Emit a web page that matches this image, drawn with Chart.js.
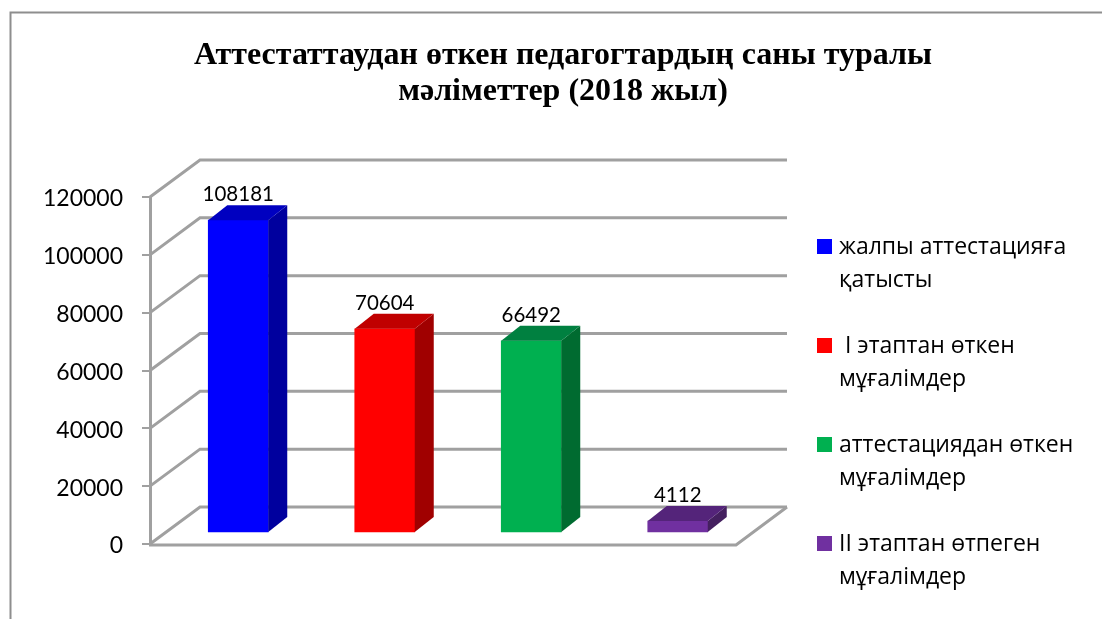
<!DOCTYPE html>
<html>
<head>
<meta charset="utf-8">
<style>html,body{margin:0;padding:0;background:#fff;overflow:hidden}canvas{display:block}</style>
<script src="https://cdn.jsdelivr.net/npm/chart.js@4"></script>
</head>
<body>
<canvas id="c" width="1102" height="619"></canvas>
<script>
const titleLines = ['Аттестаттаудан өткен педагогтардың саны туралы', 'мәліметтер (2018 жыл)'];
const categories = [['жалпы аттестацияға', 'қатысты'], [' І этаптан өткен', 'мұғалімдер'], ['аттестациядан өткен', 'мұғалімдер'], ['ІІ этаптан өтпеген', 'мұғалімдер']];
const values = [108181, 70604, 66492, 4112];
const frontColors = ['#0000FF', '#FF0000', '#00B050', '#7030A0'];
const topColors = ['#0000C0', '#C00000', '#008040', '#54247A'];
const sideColors = ['#00009E', '#A00000', '#006B30', '#44205F'];
const gridColor = '#A0A0A0';
const wall = {dx: 50, dy: -37};
const barShift = {dx: 15, dy: -11};
const barDepth = {dx: 19, dy: -15};

function line(ctx, pts, color, w) {
  ctx.beginPath();
  pts.forEach((p, i) => i ? ctx.lineTo(p[0], p[1]) : ctx.moveTo(p[0], p[1]));
  ctx.strokeStyle = color; ctx.lineWidth = w; ctx.lineJoin = 'miter'; ctx.stroke();
}
function poly(ctx, pts, color) {
  ctx.beginPath();
  pts.forEach((p, i) => i ? ctx.lineTo(p[0], p[1]) : ctx.moveTo(p[0], p[1]));
  ctx.closePath(); ctx.fillStyle = color; ctx.fill();
}
const scene = {
  id: 'scene',
  afterLayout(chart) {
    const t = chart.titleBlock;
    t.left = 24; t.right = 1102; t.width = 1078;
  },
  beforeDatasetsDraw(chart) {
    const ctx = chart.ctx, y = chart.scales.y, a = chart.chartArea;
    ctx.save();
    line(ctx, [[10.5, 619], [10.5, 12.5], [1102, 12.5]], '#8E8E8E', 2);
    y.ticks.forEach(t => {
      const py = y.getPixelForValue(t.value);
      line(ctx, [[a.left, py], [a.left + wall.dx, py + wall.dy], [a.right + wall.dx + 1, py + wall.dy]], gridColor, 3);
    });
    const y0 = y.getPixelForValue(0);
    line(ctx, [[a.left - 1, y0 + 1], [a.right, y0 + 1], [a.right + wall.dx + 1, y0 + wall.dy]], gridColor, 3);
    ctx.restore();
    ctx.save();
    ctx.translate(barShift.dx, barShift.dy);
  },
  afterDatasetsDraw(chart) {
    const ctx = chart.ctx;
    ctx.restore();
    ctx.save();
    const d = barDepth;
    chart.getDatasetMeta(0).data.forEach((bar, i) => {
      const p = bar.getProps(['x', 'y', 'base', 'width'], true);
      const l = p.x - p.width / 2 + barShift.dx, r = p.x + p.width / 2 + barShift.dx;
      const t = p.y + barShift.dy, b = p.base + barShift.dy;
      poly(ctx, [[r, t], [r + d.dx, t + d.dy], [r + d.dx, b + d.dy], [r, b]], sideColors[i]);
      poly(ctx, [[l, t], [l + d.dx, t + d.dy], [r + d.dx, t + d.dy], [r, t]], topColors[i]);
      ctx.fillStyle = '#000'; ctx.font = '20.5px Lato'; ctx.textAlign = 'center'; ctx.textBaseline = 'alphabetic';
      ctx.fillText(String(values[i]), (l + r) / 2, t + d.dy - 4);
    });
    // legend
    ctx.textAlign = 'left'; ctx.textBaseline = 'alphabetic';
    ctx.font = '23px "Open Sans"';
    categories.forEach((lines, i) => {
      const top = 239 + i * 99;
      ctx.fillStyle = frontColors[i];
      ctx.fillRect(817, top, 15, 15);
      ctx.fillStyle = '#000';
      lines.forEach((s, j) => ctx.fillText(s, 839, top + 15 + j * 32.5));
    });
    ctx.restore();
  }
};
new Chart(document.getElementById('c'), {
  type: 'bar',
  data: {
    labels: categories,
    datasets: [{data: values, backgroundColor: frontColors, borderWidth: 0, barThickness: 60, clip: false}]
  },
  options: {
    responsive: false,
    animation: false,
    layout: {padding: {left: 0, right: 366, top: 38, bottom: 75}},
    plugins: {
      legend: {display: false},
      tooltip: {enabled: false},
      title: {
        display: true,
        text: titleLines,
        color: '#000',
        font: {family: '"Liberation Serif"', size: 32, weight: 'bold', lineHeight: 1.125},
        padding: {top: 0, bottom: 87}
      }
    },
    scales: {
      x: {display: false},
      y: {
        min: 0, max: 120000,
        afterFit(s) { s.width = 150; },
        border: {color: gridColor, width: 3},
        grid: {drawOnChartArea: false, color: gridColor, tickColor: gridColor, tickLength: 8, lineWidth: 2},
        ticks: {stepSize: 20000, color: '#000', padding: 19, labelOffset: 2, font: {family: 'Lato', size: 23}, callback: v => String(v)}
      }
    }
  },
  plugins: [scene]
});
</script>
</body>
</html>
